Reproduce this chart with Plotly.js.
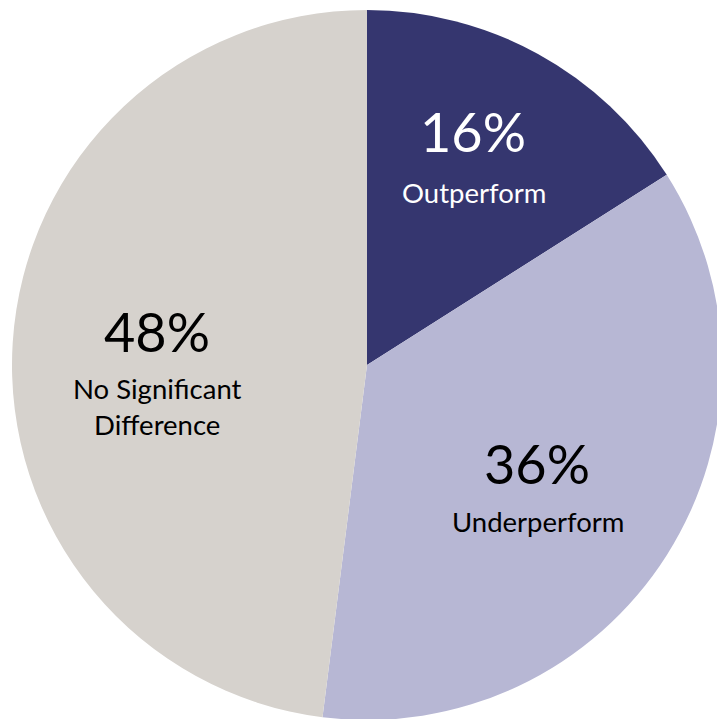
<!DOCTYPE html>
<html><head><meta charset="utf-8">
<script src="https://cdn.plot.ly/plotly-3.0.1.min.js"></script>
<style>html,body{margin:0;padding:0;overflow:hidden;background:#fff}</style>
</head><body><div id="chart" style="width:730px;height:730px"></div>
<script>
const categories = ['Outperform', 'Underperform', 'No Significant Difference'];
const values = [16, 36, 48];
const labelLines = ['Outperform', 'Underperform', 'No Significant<br>Difference'];

const colors = ['#35366F', '#B7B7D4', '#D6D2CD'];
const textColors = ['#FFFFFF', '#000000', '#000000'];
const FONT = 'Lato, "Open Sans", sans-serif';

// layout geometry
const W = 730, H = 730, ML = 12, MT = 10, PW = 710, PH = 710;
const px2x = p => (p - ML) / PW;
const px2y = p => 1 - (p - MT) / PH;
// text anchor pixels: [percent center, label center]
const textAnchors = [
  [[473, 131], [474, 192]],
  [[537, 463], [538, 521]],
  [[157, 331], [157, 406]]
];

const total = values.reduce((a, b) => a + b, 0);
const annotations = [];
values.forEach((v, i) => {
  const pct = Math.round(v / total * 100) + '%';
  annotations.push({
    xref: 'paper', yref: 'paper', x: px2x(textAnchors[i][0][0]), y: px2y(textAnchors[i][0][1]),
    xanchor: 'center', yanchor: 'middle', showarrow: false, text: pct,
    font: {family: FONT, size: 54, color: textColors[i]}
  });
  annotations.push({
    xref: 'paper', yref: 'paper', x: px2x(textAnchors[i][1][0]), y: px2y(textAnchors[i][1][1]),
    xanchor: 'center', yanchor: 'middle', showarrow: false, text: labelLines[i],
    font: {family: FONT, size: 27.5, color: textColors[i]}
  });
});

const trace = {
  type: 'pie',
  labels: categories,
  values: values,
  sort: false,
  direction: 'clockwise',
  rotation: 0,
  marker: {colors: colors, line: {width: 0}},
  textinfo: 'none',
  hoverinfo: 'label+percent',
  domain: {x: [0, 1], y: [0, 1]}
};

const layout = {
  width: W, height: H,
  margin: {l: ML, r: W - ML - PW, t: MT, b: H - MT - PH, pad: 0},
  showlegend: false,
  paper_bgcolor: '#FFFFFF',
  plot_bgcolor: '#FFFFFF',
  annotations: annotations
};

Plotly.newPlot('chart', [trace], layout, {displayModeBar: false, staticPlot: true});
</script>
</body></html>
